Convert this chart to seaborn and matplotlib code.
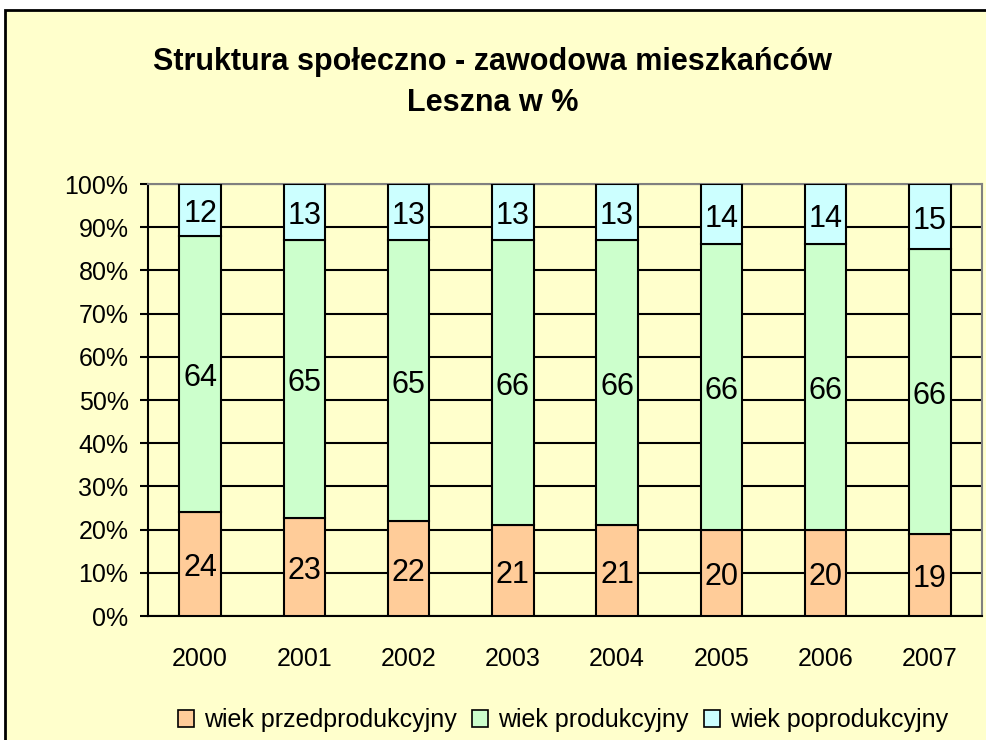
import matplotlib
matplotlib.use("Agg")
import matplotlib.pyplot as plt
from matplotlib.patches import Rectangle, Patch
import seaborn as sns
import numpy as np
import pandas as pd

years = ["2000", "2001", "2002", "2003", "2004", "2005", "2006", "2007"]
przed = [24, 23, 22, 21, 21, 20, 20, 19]
prod = [64, 65, 65, 66, 66, 66, 66, 66]
popr = [12, 13, 13, 13, 13, 14, 14, 15]
series_names = ["wiek przedprodukcyjny", "wiek produkcyjny", "wiek poprodukcyjny"]
colors = ["#FFCC99", "#CCFFCC", "#CCFFFF"]
bg = "#FFFFCC"

sns.set_style("white")
plt.rcParams["font.family"] = ["Liberation Sans", "DejaVu Sans"]
plt.rcParams["text.color"] = "black"
plt.rcParams["xtick.color"] = "black"
plt.rcParams["ytick.color"] = "black"

raw = np.array([przed, prod, popr], dtype=float)
shares = raw / raw.sum(axis=0) * 100  # 100% stacked

fig = plt.figure(figsize=(9.87, 7.40), dpi=100)
fig.patch.set_facecolor("white")
# chart frame (cut off at right/bottom like the reference)
fig.patches.append(Rectangle((5 / 987, -0.1), 1.2, 1 - 10 / 740 + 0.1,
                             transform=fig.transFigure, facecolor=bg,
                             edgecolor="black", linewidth=2, zorder=-10))

ax = fig.add_axes([148 / 987, 1 - 616 / 740, (982 - 148) / 987, (616 - 184) / 740])
ax.set_facecolor(bg)

bottom = np.zeros(len(years))
for i, name in enumerate(series_names):
    df = pd.DataFrame({"rok": years, "val": shares[i]})
    sns.barplot(data=df, x="rok", y="val", bottom=bottom, color=colors[i],
                edgecolor="black", linewidth=1.5, width=0.4, saturation=1,
                ax=ax, zorder=3)
    for j in range(len(years)):
        ax.text(j, bottom[j] + shares[i][j] / 2 - 1, f"{raw[i][j]:.0f}",
                ha="center", va="center", fontsize=22, zorder=5)
    bottom = bottom + shares[i]

ax.set_ylim(0, 100)
ax.set_xlim(-0.5, len(years) - 0.5)
ax.set_yticks(np.arange(0, 101, 10))
ax.set_yticklabels([f"{v}%" for v in range(0, 101, 10)], fontsize=18)
ax.set_xticks(range(len(years)))
ax.set_xticklabels(years, fontsize=18)
ax.set_xticks(np.arange(-0.5, len(years), 1), minor=True)
ax.tick_params(axis="x", which="major", length=0, pad=22)
ax.tick_params(axis="x", which="minor", length=6, width=1.5, direction="out", color="black")
ax.tick_params(axis="y", length=6, width=1.5, direction="out", color="black", pad=8, left=True)
ax.set_xlabel("")
ax.set_ylabel("")
ax.yaxis.grid(True, color="black", linewidth=1.5, zorder=0)
ax.set_axisbelow(True)
for s in ["left", "bottom"]:
    ax.spines[s].set_color("black")
    ax.spines[s].set_linewidth(1.5)
for s in ["top", "right"]:
    ax.spines[s].set_color("#808080")
    ax.spines[s].set_linewidth(1.5)

fig.text(493 / 987, 1 - 62 / 740, "Struktura społeczno - zawodowa mieszkańców",
         ha="center", va="center", fontsize=22, fontweight="bold")
fig.text(493 / 987, 1 - 103 / 740, "Leszna w %",
         ha="center", va="center", fontsize=22, fontweight="bold")

handles = [Patch(facecolor=c, edgecolor="black", linewidth=1.2) for c in colors]
fig.legend(handles, series_names, loc="center", bbox_to_anchor=(563 / 987, 1 - 720 / 740),
           ncol=3, frameon=False, fontsize=18, handlelength=0.65, handleheight=0.65,
           handletextpad=0.4, columnspacing=0.6, borderaxespad=0)

fig.savefig("out.png", dpi=100, facecolor=fig.get_facecolor())
